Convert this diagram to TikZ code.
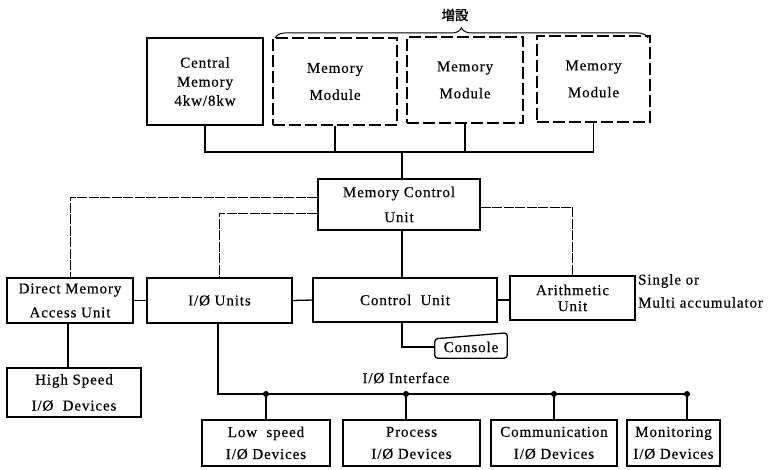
\documentclass[tikz,border=0pt]{standalone}
\usepackage{fontspec}
\setmainfont{Liberation Serif}[LetterSpace=6, FakeBold=0.4]
\newfontfamily\cjk{Noto Sans CJK JP}[FakeBold=1.5]
\usetikzlibrary{decorations.pathreplacing}

\begin{document}
\begin{tikzpicture}[x=1pt,y=-1pt,
  sz/.style 2 args={minimum width=#1pt, minimum height=#2pt},
  unit/.style={draw, line width=1.3pt, inner sep=0pt, align=center,
               font=\fontsize{15}{24}\selectfont},
  ext/.style={unit, dash pattern=on 12pt off 4pt},
  wire/.style={line width=1.3pt},
  link/.style={line width=0.9pt, dash pattern=on 10pt off 1.5pt},
  tap/.style={circle, fill, inner sep=0pt, minimum size=6pt},
  lbl/.style={inner sep=0pt, font=\fontsize{15}{23}\selectfont},
]
\useasboundingbox (0,0) rectangle (768,470);

% memory row
\node[unit, sz={116}{87}, font=\fontsize{15}{19}\selectfont] (cm) at (205,81.5) {Central\\Memory\\4kw/8kw};
\node[ext, sz={124}{87}, font=\fontsize{15}{27}\selectfont] (mm1) at (335,81.5) {Memory\\Module};
\node[ext, sz={116}{86}, font=\fontsize{15}{27}\selectfont] (mm2) at (465,80) {Memory\\Module};
\node[ext, sz={113}{86}, font=\fontsize{15}{27}\selectfont] (mm3) at (593.5,79) {Memory\\Module};

% optional extension modules
\draw[line width=1pt, decorate, decoration={brace, amplitude=10pt}] (275,38) -- (648,38);
\node[font=\cjk\fontsize{13.5}{14}\selectfont] (ext) at (455,15) {増設};

% memory bus
\coordinate (mbus) at (0,152);
\draw[wire] (cm.south) |- (mm3.south |- mbus) -- (mm3.south);
\draw[wire] (mm1.south) -- (mm1.south |- mbus);
\draw[wire] (mm2.south) -- (mm2.south |- mbus);

\node[unit, sz={162}{51}, font=\fontsize{15}{25}\selectfont] (mcu) at (399,204.5) {Memory Control\\Unit};
\draw[wire] ([xshift=3pt]mcu.north |- mbus) -- ([xshift=3pt]mcu.north);

% processor row
\node[unit, sz={126}{45}] (dma) at (70,300.5) {Direct Memory\\Access Unit};
\node[unit, sz={145}{45}] (io) at (219.5,300.5) {I/Ø Units};
\node[unit, sz={184}{44}] (cu) at (405,300) {Control\ \ Unit};
\node[unit, sz={125}{44}, font=\fontsize{15}{16}\selectfont] (au) at (572.5,298) {Arithmetic\\Unit};
\node[lbl, anchor=north west, align=left] (acc) at (638,274) {Single or\\Multi accumulator};

\draw[link] ([yshift=7.5pt]mcu.west) -| (dma.north);
\draw[link] ([yshift=-8.5pt]mcu.west) -| (io.north);
\draw[link] ([yshift=-2.5pt]mcu.east) -| (au.north);
\draw[wire] ([xshift=3pt]mcu.south) -- ([xshift=3pt]mcu.south |- cu.north);

\draw[wire] (dma.east) -- (io.west);
\draw[wire] (io.east) -- (cu.west);
\draw[wire] (cu.east) -- (cu.east -| au.west);

% high speed devices
\node[unit, sz={134}{49}, font=\fontsize{15}{26}\selectfont] (hs) at (74,392.5) {High Speed\\I/Ø\ \ Devices};
\draw[wire] ([xshift=-2pt]dma.south) -- ([xshift=-2pt]dma.south |- hs.north);

% console
\node[inner sep=0pt, sz={72}{22}, font=\fontsize{15}{16}\selectfont] (con) at (471,347) {Console};
\draw[wire, rounded corners=3pt] (con.south west) -- ([yshift=-3pt]con.north west) -- ([yshift=3pt]con.north east) -- (con.south east) -- cycle;
\draw[wire] ([xshift=-3pt]cu.south) |- (con.west);

% I/O interface bus
\coordinate (iobus) at (0,394);
\node[unit, sz={128}{46}, font=\fontsize{15}{22}\selectfont] (ls) at (266,443) {Low\ \ speed\\I/Ø Devices};
\node[unit, sz={137}{46}, font=\fontsize{15}{22}\selectfont] (pr) at (411.5,443) {Process\\I/Ø Devices};
\node[unit, sz={126}{46}, font=\fontsize{15}{22}\selectfont] (co) at (554,443) {Communication\\I/Ø Devices};
\node[unit, sz={93}{46}, font=\fontsize{15}{22}\selectfont] (mo) at (673.5,443) {Monitoring\\I/Ø\ Devices};

\draw[wire] ([xshift=-1.5pt]io.south) |- ([xshift=13.5pt]mo.north |- iobus);
\node[lbl] (ifc) at (406,378) {I/Ø Interface};

\draw[wire] (ls.north |- iobus) node[tap] {} -- (ls.north);
\draw[wire] ([xshift=-5.5pt]pr.north |- iobus) node[tap] {} -- ([xshift=-5.5pt]pr.north);
\draw[wire] (co.north |- iobus) node[tap] {} -- (co.north);
\draw[wire] ([xshift=13.5pt]mo.north |- iobus) node[tap] {} -- ([xshift=13.5pt]mo.north);
\end{tikzpicture}
\end{document}
